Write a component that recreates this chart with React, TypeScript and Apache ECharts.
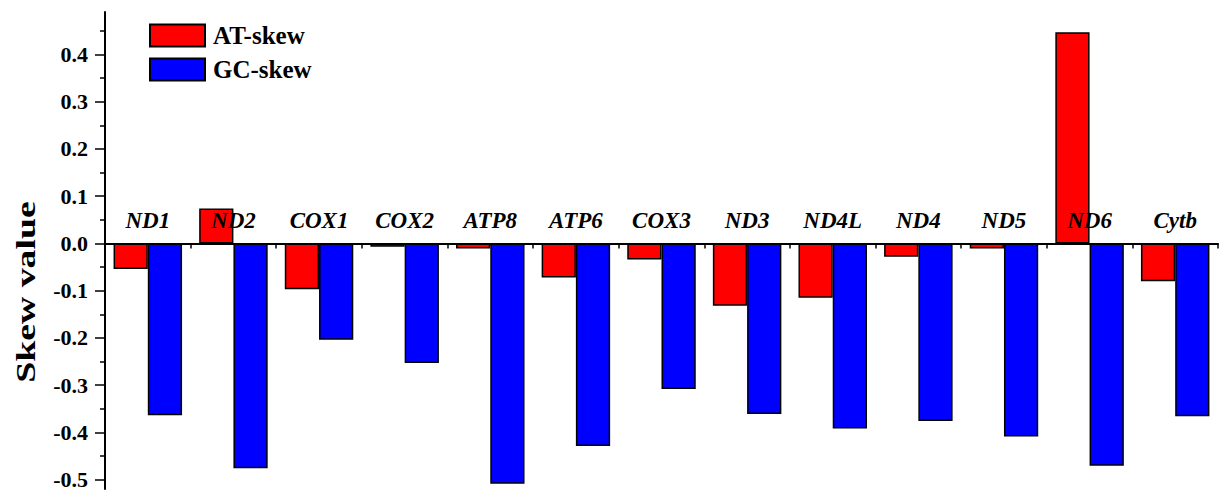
import React, { useEffect, useRef } from "react";
import * as echarts from "echarts";

const genes = ["ND1", "ND2", "COX1", "COX2", "ATP8", "ATP6", "COX3", "ND3", "ND4L", "ND4", "ND5", "ND6", "Cytb"];
const atSkew = [-0.054, 0.074, -0.097, -0.007, -0.011, -0.072, -0.034, -0.132, -0.115, -0.028, -0.011, 0.447, -0.080];
const gcSkew = [-0.364, -0.476, -0.204, -0.253, -0.509, -0.429, -0.308, -0.361, -0.392, -0.376, -0.409, -0.471, -0.366];
const majorTicks = [-0.5, -0.4, -0.3, -0.2, -0.1, 0, 0.1, 0.2, 0.3, 0.4];
const minorTicks = [-0.45, -0.35, -0.25, -0.15, -0.05, 0.05, 0.15, 0.25, 0.35, 0.45];

const FONT = "'Liberation Serif', 'Times New Roman', serif";

const W = 1223;
const H = 493;
const GRID = { left: 105, right: 5, top: 12, bottom: 4 };
const Y_MIN = -0.52;
const Y_MAX = 0.49;

export default function App() {
  const ref = useRef<HTMLDivElement>(null);

  useEffect(() => {
    if (!ref.current) return;
    const chart = echarts.init(ref.current, null, { renderer: "svg" });
    // distance from the top of the plot down to the zero line, used to park the gene-name axis there
    const plotH = H - GRID.top - GRID.bottom;
    const zeroFromTop = (plotH * Y_MAX) / (Y_MAX - Y_MIN);
    chart.setOption({
      animation: false,
      backgroundColor: "#ffffff",
      grid: GRID,
      legend: {
        data: ["AT-skew", "GC-skew"],
        orient: "vertical",
        left: 149,
        top: 23,
        padding: 0,
        icon: "rect",
        itemWidth: 55,
        itemHeight: 22,
        itemGap: 9,
        textStyle: {
          fontFamily: FONT,
          fontWeight: "bold",
          fontSize: 25,
          color: "#000",
          padding: [0, 0, 0, 3],
        },
      },
      xAxis: [
        {
          type: "category",
          data: genes,
          z: 6,
          axisLine: { onZero: true, onZeroAxisIndex: 0, lineStyle: { color: "#000", width: 2 } },
          axisTick: { show: true, inside: false, length: 5, alignWithLabel: false, lineStyle: { color: "#000", width: 1.5 } },
          axisLabel: { show: false },
          splitLine: { show: false },
        },
        {
          // gene names sitting just above the zero line, drawn over the bars
          type: "category",
          data: genes,
          position: "top",
          offset: -zeroFromTop,
          z: 10,
          axisLine: { show: false },
          axisTick: { show: false },
          axisLabel: {
            margin: 11,
            interval: 0,
            fontFamily: FONT,
            fontStyle: "italic",
            fontWeight: "bold",
            fontSize: 23,
            color: "#000",
          },
          splitLine: { show: false },
        },
      ],
      yAxis: [
        {
          type: "value",
          min: Y_MIN,
          max: Y_MAX,
          axisLine: { show: true, onZero: false, lineStyle: { color: "#000", width: 2 } },
          axisTick: { show: true, inside: false, length: 10, customValues: majorTicks, lineStyle: { color: "#000", width: 1.5 } },
          axisLabel: {
            customValues: majorTicks,
            formatter: (v: number) => v.toFixed(1),
            margin: 17,
            fontFamily: FONT,
            fontWeight: "bold",
            fontSize: 22,
            color: "#000",
          },
          splitLine: { show: false },
        },
        {
          type: "value",
          min: Y_MIN,
          max: Y_MAX,
          position: "left",
          axisLine: { show: false, onZero: false },
          axisTick: { show: true, inside: false, length: 5, customValues: minorTicks, lineStyle: { color: "#000", width: 1.5 } },
          axisLabel: { show: false },
          splitLine: { show: false },
        },
      ],
      graphic: [
        {
          type: "text",
          x: 25,
          y: 292,
          rotation: Math.PI / 2,
          scaleX: 1.35,
          style: {
            text: "Skew value",
            fontFamily: FONT,
            fontWeight: "bold",
            fontSize: 28,
            fill: "#000",
            textAlign: "center",
            textVerticalAlign: "middle",
          },
        },
      ],
      series: [
        {
          name: "AT-skew",
          type: "bar",
          data: atSkew,
          barGap: "0%",
          barCategoryGap: "20%",
          itemStyle: { color: "#ff0000", borderColor: "#000", borderWidth: 1.5 },
        },
        {
          name: "GC-skew",
          type: "bar",
          data: gcSkew,
          barGap: "0%",
          barCategoryGap: "20%",
          itemStyle: { color: "#0000ff", borderColor: "#000", borderWidth: 1.5 },
        },
      ],
    });
    return () => chart.dispose();
  }, []);

  return (
    <div
      ref={ref}
      style={{ position: "fixed", left: 0, top: 0, width: W, height: H, background: "#fff" }}
    />
  );
}
